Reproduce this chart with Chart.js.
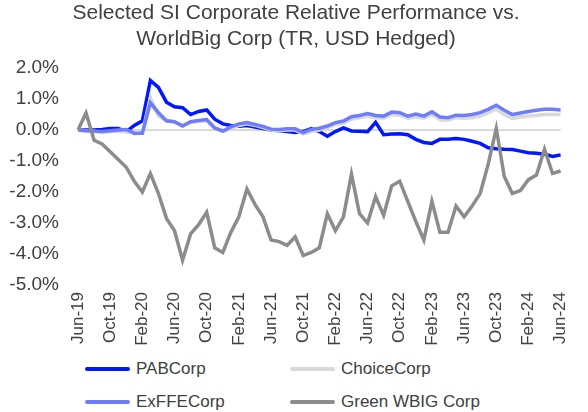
<!DOCTYPE html>
<html>
<head>
<meta charset="utf-8">
<script src="https://cdn.jsdelivr.net/npm/chart.js@4"></script>
<style>
  html, body { margin: 0; padding: 0; background: #ffffff; }
  #wrap { position: relative; width: 588px; height: 412px; }
  #grafico { position: absolute; left: 0; top: 0; }
  #leyenda {
    position: absolute; left: 85px; top: 356px; width: 480px;
    display: grid; grid-template-columns: 205px 260px; row-gap: 8px;
    font-family: "Liberation Sans", Arial, sans-serif; font-size: 17px; color: #404040;
  }
  .item { display: flex; align-items: center; height: 25px; }
  .muestra { width: 45px; height: 4px; margin-right: 6px; border-radius: 2px; }
</style>
</head>
<body>
<div id="wrap">
  <canvas id="grafico" width="588" height="350"></canvas>
  <div id="leyenda"></div>
</div>
<script>
// meses (jun-19 a jun-24)
const meses = [
  'Jun-19','Jul-19','Aug-19','Sep-19','Oct-19','Nov-19','Dec-19','Jan-20','Feb-20','Mar-20',
  'Apr-20','May-20','Jun-20','Jul-20','Aug-20','Sep-20','Oct-20','Nov-20','Dec-20','Jan-21',
  'Feb-21','Mar-21','Apr-21','May-21','Jun-21','Jul-21','Aug-21','Sep-21','Oct-21','Nov-21',
  'Dec-21','Jan-22','Feb-22','Mar-22','Apr-22','May-22','Jun-22','Jul-22','Aug-22','Sep-22',
  'Oct-22','Nov-22','Dec-22','Jan-23','Feb-23','Mar-23','Apr-23','May-23','Jun-23','Jul-23',
  'Aug-23','Sep-23','Oct-23','Nov-23','Dec-23','Jan-24','Feb-24','Mar-24','Apr-24','May-24','Jun-24'
];

const nombres = ['PABCorp', 'ChoiceCorp', 'ExFFECorp', 'Green WBIG Corp'];

// valores en %
const pabCorp = [
  0, 0, 0, 0.02, 0.05, 0.05, -0.05, 0.15, 0.3, 1.6,
  1.38, 0.9, 0.75, 0.72, 0.5, 0.6, 0.65, 0.35, 0.2, 0.15,
  0.12, 0.15, 0.1, 0.05, 0, -0.02, -0.05, -0.08, -0.05, 0.05,
  -0.05, -0.2, -0.05, 0.07, -0.03, -0.04, -0.05, 0.25, -0.15, -0.13,
  -0.12, -0.15, -0.3, -0.4, -0.43, -0.3, -0.3, -0.27, -0.3, -0.36,
  -0.43, -0.57, -0.6, -0.62, -0.63, -0.68, -0.73, -0.75, -0.78, -0.85, -0.8
];
const choiceCorp = [
  0, -0.03, -0.05, -0.08, -0.05, -0.05, -0.05, -0.12, -0.1, 1.05,
  0.45, 0.3, 0.25, 0.15, 0.25, 0.28, 0.3, 0.05, -0.05, 0.05,
  0.15, 0.2, 0.15, 0.08, 0, -0.02, 0, 0, -0.12, -0.05,
  0, 0.08, 0.18, 0.22, 0.35, 0.4, 0.45, 0.4, 0.38, 0.5,
  0.48, 0.38, 0.42, 0.38, 0.5, 0.33, 0.32, 0.4, 0.38, 0.4,
  0.45, 0.55, 0.68, 0.5, 0.37, 0.42, 0.45, 0.47, 0.5, 0.5, 0.5
];
const exFFECorp = [
  0, -0.02, -0.03, -0.05, -0.02, 0, 0.02, -0.1, -0.1, 0.88,
  0.56, 0.3, 0.27, 0.13, 0.27, 0.31, 0.34, 0.07, -0.03, 0.1,
  0.2, 0.24, 0.18, 0.12, 0.03, 0.02, 0.04, 0.04, -0.08, 0.02,
  0.06, 0.13, 0.24, 0.29, 0.43, 0.47, 0.53, 0.47, 0.45, 0.58,
  0.56, 0.45, 0.52, 0.45, 0.59, 0.42, 0.4, 0.48, 0.47, 0.5,
  0.56, 0.67, 0.8, 0.64, 0.5, 0.55, 0.6, 0.64, 0.67, 0.67, 0.65
];
const greenWBIG = [
  0, 0.55, -0.33, -0.45, -0.7, -0.95, -1.2, -1.65, -2.0, -1.4,
  -2.05, -2.85, -3.25, -4.2, -3.35, -3.05, -2.65, -3.8, -3.95, -3.3,
  -2.8, -1.9, -2.4, -2.8, -3.55, -3.6, -3.72, -3.45, -4.05, -3.95,
  -3.8, -2.7, -3.25, -2.8, -1.42, -2.7, -3.0, -2.15, -2.75, -1.8,
  -1.65, -2.3, -2.95, -3.55, -2.3, -3.3, -3.3, -2.45, -2.8, -2.45,
  -2.05, -1.1, 0.05, -1.5, -2.05, -1.95, -1.6, -1.45, -0.62, -1.4, -1.32
];

const colores = ['#0018ff', '#d9d9d9', '#6f7dfa', '#8c8c8c'];
const orden = [3, 2, 1, 0]; // gris encima
const series = [pabCorp, choiceCorp, exFFECorp, greenWBIG];

const fuente = '"Liberation Sans", Arial, sans-serif';
const colorTexto = '#404040';

var ctx = document.getElementById('grafico').getContext('2d');

var chart = new Chart(ctx, {
    type: 'line',
    data: {
        labels: meses,
        datasets: series.map((s, i) => ({
            label: nombres[i],
            data: s,
            borderColor: colores[i],
            backgroundColor: colores[i],
            borderWidth: 3.5,
            pointRadius: 0,
            tension: 0,
            order: orden[i]
        }))
    },
    options: {
        responsive: false,
        animation: false,
        layout: { padding: { left: 4, right: 0, top: 0, bottom: 0 } },
        scales: {
            x: {
                grid: { display: false, drawTicks: false },
                border: { display: false },
                ticks: {
                    autoSkip: false,
                    minRotation: 90,
                    maxRotation: 90,
                    padding: 7,
                    color: colorTexto,
                    font: { family: fuente, size: 17 },
                    callback: function (val, i) {
                        return i % 4 === 0 ? this.getLabelForValue(val) : '';
                    }
                },
                afterFit: function (scale) { scale.height = 65; }
            },
            y: {
                min: -5,
                max: 2,
                border: { display: false },
                grid: {
                    drawTicks: false,
                    lineWidth: 2,
                    color: c => c.tick && c.tick.value === 0 ? '#d9d9d9' : 'rgba(0,0,0,0)'
                },
                ticks: {
                    stepSize: 1,
                    padding: 19,
                    color: colorTexto,
                    font: { family: fuente, size: 19 },
                    callback: v => v.toFixed(1) + '%'
                },
                afterFit: function (scale) { scale.width = 74; }
            },
            // eje vacio a la derecha, solo para dejar margen
            yDer: {
                position: 'right',
                grid: { display: false, drawTicks: false },
                border: { display: false },
                ticks: { display: false },
                afterFit: function (scale) { scale.width = 22; }
            }
        },
        plugins: {
            legend: { display: false },
            tooltip: { enabled: false },
            title: {
                display: true,
                text: ['Selected SI Corporate Relative Performance vs.', 'WorldBig Corp (TR, USD Hedged)'],
                color: colorTexto,
                font: { family: fuente, size: 21, weight: 'normal', lineHeight: 1.24 },
                padding: { top: 0, bottom: 16 }
            }
        }
    }
});

// leyenda en dos columnas
const leyenda = document.getElementById('leyenda');
chart.data.datasets.forEach(ds => {
    const item = document.createElement('div');
    item.className = 'item';
    item.innerHTML = '<span class="muestra" style="background:' + ds.borderColor + '"></span>' + ds.label;
    leyenda.appendChild(item);
});
</script>
</body>
</html>
